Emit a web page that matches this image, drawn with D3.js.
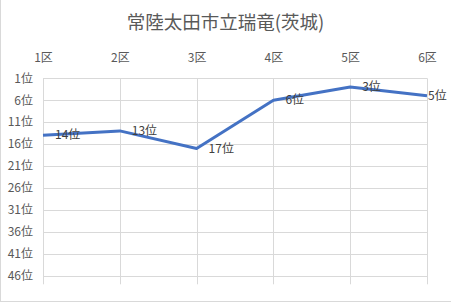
<!DOCTYPE html>
<html><head><meta charset="utf-8">
<script src="https://cdn.jsdelivr.net/npm/d3@7"></script>
<style>body{margin:0;background:#fff}svg{display:block}text{font-family:"Noto Sans CJK JP","Noto Sans",sans-serif}</style>
</head><body><div id="chart"></div>
<script>
const title = "常陸太田市立瑞竜(茨城)";
const categories = ["1区","2区","3区","4区","5区","6区"];
const ranks = [14, 13, 17, 6, 3, 5];
const yTicks = [1, 6, 11, 16, 21, 26, 31, 36, 41, 46];
const yDomain = [1, 48];

const W = 451, H = 302;
const svg = d3.select("#chart").append("svg").attr("width", W).attr("height", H);
svg.append("line").attr("x1",0.5).attr("x2",0.5).attr("y1",0).attr("y2",H).attr("stroke","#d9d9d9");
svg.append("line").attr("x1",0).attr("x2",W).attr("y1",H-0.5).attr("y2",H-0.5).attr("stroke","#d9d9d9");

const x = d3.scalePoint().domain(categories).range([43, 427]);
const y = d3.scaleLinear().domain(yDomain).range([78.3, 284.3]);

svg.append("text").attr("x", 225.5).attr("y", 29).attr("text-anchor","middle")
  .attr("font-size","18.5px").attr("fill","#595959").text(title);

// gridlines
svg.append("g").selectAll("line").data(yTicks).join("line")
  .attr("x1", 43).attr("x2", 427).attr("y1", d=>Math.round(y(d))+0.5).attr("y2", d=>Math.round(y(d))+0.5)
  .attr("stroke","#d9d9d9");
svg.append("g").selectAll("line").data(categories).join("line")
  .attr("x1", d=>Math.round(x(d))+0.5).attr("x2", d=>Math.round(x(d))+0.5)
  .attr("y1", y(yDomain[0])).attr("y2", y(yDomain[1]))
  .attr("stroke","#d9d9d9");

// axes
const xAxis = d3.axisTop(x).tickSize(0).tickPadding(0);
const gx = svg.append("g").attr("transform","translate(0,62)").call(xAxis);
gx.select(".domain").remove();
gx.selectAll("text").attr("font-size","12px").attr("fill","#595959").attr("font-family",'"Noto Sans CJK JP",sans-serif');

const yAxis = d3.axisLeft(y).tickValues(yTicks).tickSize(0).tickPadding(0).tickFormat(d=>d+"位");
const gy = svg.append("g").attr("transform","translate(33,0)").call(yAxis);
gy.select(".domain").remove();
gy.selectAll("text").attr("font-size","12px").attr("fill","#595959").attr("font-family",'"Noto Sans CJK JP",sans-serif');

// line
const line = d3.line().x((d,i)=>x(categories[i])).y(d=>y(d));
svg.append("path").datum(ranks).attr("d", line).attr("fill","none")
  .attr("stroke","#4472c4").attr("stroke-width",3).attr("stroke-linejoin","round");

// labels
svg.append("g").selectAll("text").data(ranks).join("text")
  .attr("x", (d,i)=>Math.min(x(categories[i]) + 12, W - 23))
  .attr("y", d=>y(d)).attr("dy","0.35em")
  .attr("font-size","12px").attr("fill","#404040").text(d=>d+"位");
</script></body></html>
